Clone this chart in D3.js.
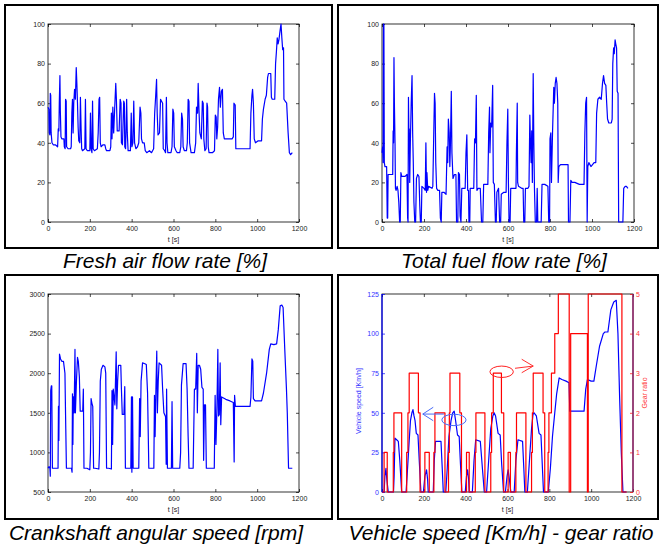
<!DOCTYPE html>
<html>
<head>
<meta charset="utf-8">
<script src="https://cdn.jsdelivr.net/npm/d3@7"></script>
<style>
  body { margin: 0; background: #fff; }
  text { font-family: "Liberation Sans", Arial, Helvetica, sans-serif; }
</style>
</head>
<body>
<div id="chart"></div>
<script>

// ---- data: [time s, value] ----
const airFlow = [[0,58],[4,57],[6,45],[9,44],[11,65],[13,64],[15,45],[19,40],[25,39],[35,39],[46,38],[49,47],[52,46],[54,60],[57,74],[59,56],[62,43],[66,42],[76,42],[78,38],[82,37],[84,62],[87,61],[89,38],[96,37],[108,37],[111,38],[114,55],[117,62],[120,45],[123,60],[127,67],[131,62],[135,78],[138,70],[141,60],[144,48],[147,41],[152,40],[155,63],[158,48],[161,37],[165,36],[176,37],[179,62],[182,37],[188,36],[200,36],[203,55],[206,37],[210,35],[213,61],[216,37],[222,36],[236,37],[240,45],[244,62],[247,63],[250,40],[254,38],[262,39],[272,39],[276,37],[280,36],[296,36],[300,38],[303,55],[306,42],[310,58],[314,45],[319,58],[324,70],[327,62],[331,46],[340,46],[345,62],[349,60],[351,40],[356,39],[362,61],[365,60],[367,38],[371,37],[376,62],[379,45],[383,36],[394,36],[398,55],[401,38],[406,40],[410,61],[414,40],[420,37],[428,38],[434,40],[440,58],[444,55],[447,42],[452,40],[460,40],[465,36],[472,35],[485,36],[495,35],[505,37],[510,55],[515,64],[519,72],[522,55],[526,44],[533,45],[538,62],[543,61],[548,60],[551,37],[558,36],[562,35],[566,63],[569,40],[573,35],[588,35],[593,38],[597,57],[601,55],[604,38],[612,36],[618,35],[630,35],[635,38],[639,55],[643,52],[646,38],[652,36],[662,36],[666,40],[670,62],[674,61],[677,40],[684,35],[700,35],[706,40],[710,58],[715,55],[718,70],[722,56],[726,45],[733,42],[738,61],[742,60],[745,42],[750,36],[756,37],[760,60],[763,58],[766,38],[770,35],[786,35],[796,36],[800,54],[804,53],[807,42],[811,48],[815,62],[820,68],[824,58],[829,66],[834,67],[838,45],[843,42],[860,42],[880,42],[886,43],[889,60],[895,59],[898,37],[910,37],[930,37],[950,37],[966,37],[970,55],[975,64],[978,67],[982,60],[986,42],[992,40],[1005,41],[1021,41],[1025,52],[1030,57],[1038,62],[1044,64],[1050,73],[1054,75],[1065,75],[1068,63],[1072,62],[1084,62],[1088,80],[1092,86],[1096,93],[1100,90],[1104,92],[1110,97],[1114,100],[1118,93],[1122,87],[1126,88],[1128,62],[1134,61],[1141,60],[1148,45],[1154,35],[1160,34],[1168,35]];

const fuelFlow = [[0,35],[3,38],[5,30],[7,100],[9,100],[11,30],[14,28],[22,28],[25,2],[27,2],[29,24],[40,24],[51,24],[53,46],[55,40],[57,83],[59,60],[62,40],[64,17],[67,16],[72,18],[76,16],[80,10],[84,0],[87,0],[90,25],[94,23],[110,23],[119,24],[122,2],[124,0],[126,63],[128,45],[130,47],[132,20],[135,40],[139,60],[143,74],[146,45],[149,30],[152,10],[156,0],[160,0],[164,22],[170,24],[176,23],[180,8],[183,0],[187,0],[190,18],[200,17],[206,16],[209,40],[212,15],[214,25],[218,16],[222,18],[238,17],[242,18],[246,42],[250,65],[253,60],[256,30],[260,17],[266,16],[274,16],[278,2],[282,0],[285,15],[295,15],[305,14],[310,38],[313,30],[316,52],[320,45],[323,28],[326,40],[330,66],[333,35],[338,22],[345,24],[352,24],[355,0],[361,0],[364,25],[369,24],[372,3],[376,0],[380,17],[390,17],[396,17],[400,35],[404,44],[408,16],[412,16],[414,0],[418,0],[420,17],[430,17],[437,17],[441,42],[445,40],[449,64],[452,16],[458,17],[468,17],[474,0],[480,0],[484,19],[495,19],[504,19],[508,45],[512,58],[514,35],[518,50],[522,48],[527,69],[530,20],[535,19],[540,0],[544,0],[547,15],[555,17],[560,0],[565,0],[568,14],[580,15],[591,15],[595,40],[599,57],[602,20],[605,0],[610,0],[613,17],[625,17],[638,17],[640,35],[644,60],[646,20],[650,18],[665,17],[672,17],[675,0],[680,0],[683,17],[695,17],[700,18],[704,54],[707,40],[710,30],[713,46],[716,20],[720,75],[723,40],[726,17],[730,0],[736,0],[739,17],[742,0],[758,0],[762,19],[775,19],[790,18],[794,0],[798,0],[800,42],[804,45],[807,20],[812,45],[818,68],[821,60],[825,70],[829,73],[833,70],[837,60],[839,20],[842,28],[850,29],[870,29],[886,29],[888,0],[895,0],[899,21],[905,20],[918,20],[940,19],[962,19],[966,45],[970,60],[974,63],[977,0],[980,28],[985,30],[995,28],[1010,30],[1018,30],[1022,55],[1028,62],[1036,63],[1044,62],[1050,70],[1055,74],[1060,70],[1066,69],[1070,60],[1074,52],[1080,50],[1092,50],[1096,52],[1099,80],[1103,88],[1106,85],[1110,92],[1113,90],[1117,88],[1120,66],[1124,65],[1127,0],[1131,0],[1140,0],[1147,0],[1151,17],[1158,18],[1164,18],[1171,17]];

const crankSpeed = [[0,800],[5,820],[9,800],[11,700],[13,1780],[16,1840],[18,1840],[21,800],[30,800],[48,800],[50,1580],[52,1150],[55,2240],[60,2180],[66,2150],[74,2150],[81,2000],[85,1300],[88,800],[100,800],[112,800],[115,750],[117,1740],[119,1100],[121,1700],[125,1500],[129,2300],[131,1500],[136,1900],[141,2200],[145,2150],[150,1950],[154,1520],[166,1520],[169,1800],[172,800],[176,800],[186,800],[200,780],[203,1000],[206,1680],[210,1620],[214,1580],[218,800],[225,800],[243,790],[246,1000],[250,1900],[255,2050],[263,2100],[272,2080],[276,2000],[280,800],[290,800],[303,790],[306,1780],[309,1100],[312,1800],[320,1600],[326,2270],[329,1550],[333,1900],[337,2100],[348,2100],[351,1800],[355,1480],[363,1480],[367,1830],[370,800],[380,800],[396,800],[399,1700],[401,750],[404,1700],[407,800],[420,800],[434,800],[438,1680],[441,1200],[445,1900],[452,2130],[463,2120],[470,2110],[476,1750],[482,800],[495,800],[506,800],[509,1720],[512,1200],[516,1800],[520,2280],[523,1500],[527,1900],[531,2130],[543,2100],[548,1800],[554,1500],[562,1450],[565,850],[567,1800],[571,800],[580,800],[590,800],[593,1640],[596,800],[610,800],[630,800],[634,1000],[638,1850],[646,2120],[660,2120],[665,1800],[670,1200],[674,800],[685,800],[694,800],[700,1800],[706,1800],[711,2250],[714,1500],[718,2100],[724,2100],[730,2050],[736,1820],[742,1800],[744,900],[748,1600],[753,1600],[757,800],[770,800],[795,800],[799,1720],[803,1100],[808,1600],[812,2300],[815,1460],[819,1480],[823,2130],[826,1350],[830,1700],[850,1670],[870,1650],[886,1630],[890,880],[892,1720],[896,1580],[902,1580],[930,1580],[966,1580],[970,1700],[975,2180],[979,2150],[982,1680],[990,1650],[1010,1650],[1021,1650],[1030,1750],[1045,2000],[1058,2300],[1065,2370],[1080,2360],[1093,2370],[1101,2550],[1110,2850],[1118,2860],[1124,2830],[1132,2300],[1140,1800],[1144,1500],[1150,800],[1160,800],[1168,800]];

const vehicleSpeed = [[0,0],[10,0],[14,10],[19,15],[23,8],[30,0],[55,0],[58,10],[62,34],[70,33],[78,32],[85,20],[94,0],[115,0],[120,10],[128,28],[136,45],[143,50],[148,52],[153,48],[158,45],[164,37],[172,36],[178,20],[186,0],[198,0],[205,10],[213,14],[218,8],[221,0],[245,0],[250,20],[256,32],[270,32],[282,32],[288,15],[293,0],[305,0],[312,15],[320,35],[330,45],[338,50],[345,51],[352,45],[361,36],[369,35],[375,18],[382,0],[398,0],[404,10],[409,14],[414,8],[417,0],[432,0],[440,20],[448,33],[470,32],[480,15],[489,0],[500,0],[510,20],[520,40],[530,48],[536,50],[543,48],[555,37],[565,36],[572,18],[581,0],[590,0],[598,10],[603,14],[609,8],[616,0],[632,0],[640,20],[650,33],[672,32],[678,15],[683,0],[695,0],[705,20],[715,40],[722,49],[727,50],[738,48],[751,37],[760,36],[766,18],[772,0],[795,0],[805,15],[815,35],[826,50],[835,62],[847,72],[860,71],[880,70],[894,69],[898,51],[920,51],[966,51],[974,65],[982,71],[1000,70],[1013,70],[1025,80],[1040,92],[1058,100],[1066,101],[1080,101],[1094,115],[1108,120],[1120,121],[1128,100],[1136,60],[1144,25],[1152,0],[1168,0]];

const gearRatio = [[0,0],[10,1],[25,0],[54,1],[57,2],[94,0],[118,1],[124,2],[130,3],[174,2],[182,0],[205,1],[226,0],[248,1],[253,2],[301,0],[318,1],[322,2],[325,3],[372,2],[380,0],[404,1],[417,0],[446,1],[449,2],[492,0],[520,1],[524,2],[532,3],[571,2],[582,0],[603,1],[614,0],[640,1],[643,2],[688,0],[715,1],[719,2],[723,3],[770,2],[778,0],[794,1],[798,2],[810,3],[826,4],[843,5],[895,0],[902,4],[982,0],[986,5],[1147,0],[1170,0]];

// tick values
const timeTicks = [0, 200, 400, 600, 800, 1000, 1200];
const pctTicks = [0, 20, 40, 60, 80, 100];
const rpmTicks = [500, 1000, 1500, 2000, 2500, 3000];
const speedTicks = [0, 25, 50, 75, 100, 125];
const gearTicks = [0, 1, 2, 3, 4, 5];

// annotation marks in data units (time, km/h)
const blueEllipse = {t: 344, v: 45.5, rt: 58, rv: 3.6};
const blueArrow = [[296, 49.2], [195, 49.2]];
const blueHead = [[245, 53.5], [195, 49.2], [245, 45]];
const redEllipse = {t: 572, v: 75.9, rt: 56, rv: 3.6};
const redArrow = [[636, 78.1], [723, 79.5]];
const redHead = [[668, 83.8], [723, 79.5], [668, 75.3]];

const fmt = d3.format("d");

const svg = d3.select("#chart").append("svg")
    .attr("width", 662)
    .attr("height", 550);

svg.append("rect").attr("width", 662).attr("height", 550).attr("fill", "#fff");

function drawPanel(p) {
  svg.append("rect")
    .attr("x", p.frame[0]).attr("y", p.frame[1])
    .attr("width", p.frame[2] - p.frame[0])
    .attr("height", p.frame[3] - p.frame[1])
    .attr("fill", "none").attr("stroke", "#000").attr("stroke-width", 2);

  const w = p.plot[2] - p.plot[0],
        h = p.plot[3] - p.plot[1];
  const g = svg.append("g").attr("transform", "translate(" + p.plot[0] + "," + p.plot[1] + ")");

  const x = d3.scaleLinear().domain([0, 1200]).range([0, w]);
  const y = d3.scaleLinear().domain(p.yDomain).range([h, 0]);

  g.append("rect").attr("width", w).attr("height", h)
    .attr("fill", "#fff").attr("stroke", "#000").attr("stroke-width", 0.8);

  g.append("g").attr("class", "axis")
    .attr("transform", "translate(0," + h + ")")
    .call(d3.axisBottom(x).tickValues(timeTicks).tickFormat(fmt).tickSize(-3).tickSizeOuter(0).tickPadding(4));
  g.append("g").attr("class", "axis")
    .call(d3.axisTop(x).tickValues(timeTicks).tickSize(-3).tickSizeOuter(0).tickFormat(""));
  g.append("g").attr("class", "axis yleft")
    .call(d3.axisLeft(y).tickValues(p.yTicks).tickFormat(fmt).tickSize(-3).tickSizeOuter(0).tickPadding(3));
  if (!p.twin) {
    g.append("g").attr("class", "axis")
      .attr("transform", "translate(" + w + ",0)")
      .call(d3.axisRight(y).tickValues(p.yTicks).tickSize(-3).tickSizeOuter(0).tickFormat(""));
  }
  g.selectAll(".domain").remove();
  g.selectAll(".axis").attr("font-family", null).attr("font-size", null);
  g.selectAll(".tick text").attr("font-size", 7).attr("fill", "#222");
  g.selectAll(".tick line").attr("stroke", "#000").attr("stroke-width", 0.7);

  g.append("text")
    .attr("x", w / 2).attr("y", h + 20)
    .attr("text-anchor", "middle")
    .attr("font-size", 7).attr("fill", "#222")
    .text("t [s]");

  svg.append("text")
    .attr("x", p.titleX).attr("y", p.titleY)
    .attr("text-anchor", "middle")
    .attr("font-size", 21).attr("font-style", "italic")
    .attr("fill", "#000")
    .text(p.title);

  return {g: g, x: x, y: y, w: w, h: h};
}

function plotLine(panel, data, color, curve) {
  const line = d3.line()
    .x(d => panel.x(d[0]))
    .y(d => panel.y(d[1]))
    .curve(curve || d3.curveLinear);
  panel.g.append("path")
    .datum(data)
    .attr("d", line)
    .attr("fill", "none")
    .attr("stroke", color)
    .attr("stroke-width", 1.2)
    .attr("stroke-linejoin", "round");
}

// top-left: fresh air
const p1 = drawPanel({frame: [5, 5, 332, 248], plot: [48, 24, 299, 222],
  yDomain: [0, 100], yTicks: pctTicks, title: "Fresh air flow rate [%]", titleX: 165, titleY: 268});
plotLine(p1, airFlow, "#0000ff");

// top-right: fuel
const p2 = drawPanel({frame: [338, 5, 658, 248], plot: [382, 24, 634, 222],
  yDomain: [0, 100], yTicks: pctTicks, title: "Total fuel flow rate [%]", titleX: 504, titleY: 268});
plotLine(p2, fuelFlow, "#0000ff");

// bottom-left: crankshaft
const p3 = drawPanel({frame: [5, 275, 332, 519], plot: [48, 294, 299, 492],
  yDomain: [500, 3000], yTicks: rpmTicks, title: "Crankshaft angular speed [rpm]", titleX: 156, titleY: 540});
plotLine(p3, crankSpeed, "#0000ff");

// bottom-right: vehicle speed and gear
const p4 = drawPanel({frame: [338, 275, 658, 519], plot: [382, 294, 633, 492],
  yDomain: [0, 125], yTicks: speedTicks, twin: true, title: "Vehicle speed [Km/h] - gear ratio", titleX: 501, titleY: 540});

p4.g.selectAll(".yleft .tick text").attr("fill", "#3333ff");
p4.g.selectAll(".yleft .tick line").attr("stroke", "#0000ff");

const yGear = d3.scaleLinear().domain([0, 5]).range([p4.h, 0]);
const rightAx = p4.g.append("g")
  .attr("transform", "translate(" + p4.w + ",0)")
  .call(d3.axisRight(yGear).tickValues(gearTicks).tickFormat(fmt).tickSize(-3).tickSizeOuter(0).tickPadding(3));
rightAx.select(".domain").remove();
rightAx.attr("font-family", null).attr("font-size", null);
rightAx.selectAll(".tick text").attr("font-size", 7).attr("fill", "#ff3333");
rightAx.selectAll(".tick line").attr("stroke", "#ff0000").attr("stroke-width", 0.7);

plotLine(p4, vehicleSpeed, "#0000ff");
plotLine({g: p4.g, x: p4.x, y: yGear}, gearRatio, "#ff0000", d3.curveStepAfter);

p4.g.append("line").attr("x1", 0).attr("x2", 0).attr("y1", 0).attr("y2", p4.h)
  .attr("stroke", "#0000ff").attr("stroke-width", 1.2);
p4.g.append("line").attr("x1", p4.w).attr("x2", p4.w).attr("y1", 0).attr("y2", p4.h)
  .attr("stroke", "#99236e").attr("stroke-width", 1.4);

p4.g.append("text")
  .attr("transform", "translate(-21," + (p4.h / 2 + 8) + ") rotate(-90)")
  .attr("text-anchor", "middle").attr("font-size", 7).attr("fill", "#3333ff")
  .text("Vehicle speed [Km/h]");
p4.g.append("text")
  .attr("transform", "translate(" + (p4.w + 14) + "," + (p4.h / 2) + ") rotate(-90)")
  .attr("text-anchor", "middle").attr("font-size", 7).attr("fill", "#ff3333")
  .text("Gear ratio");

// annotations
const ax = p4.x, ay = p4.y;
const seg = d3.line().x(d => ax(d[0])).y(d => ay(d[1]));
function ellipse(e, color) {
  p4.g.append("ellipse")
    .attr("cx", ax(e.t)).attr("cy", ay(e.v))
    .attr("rx", ax(e.rt) - ax(0)).attr("ry", ay(0) - ay(e.rv))
    .attr("fill", "none").attr("stroke", color).attr("stroke-width", 1);
}
ellipse(blueEllipse, "#4a6cf7");
ellipse(redEllipse, "#ff2020");
[[blueArrow, "#4a6cf7"], [blueHead, "#4a6cf7"], [redArrow, "#ff3030"], [redHead, "#ff3030"]].forEach(a => {
  p4.g.append("path").attr("d", seg(a[0]))
    .attr("fill", "none").attr("stroke", a[1]).attr("stroke-width", 1);
});

</script>
</body>
</html>
